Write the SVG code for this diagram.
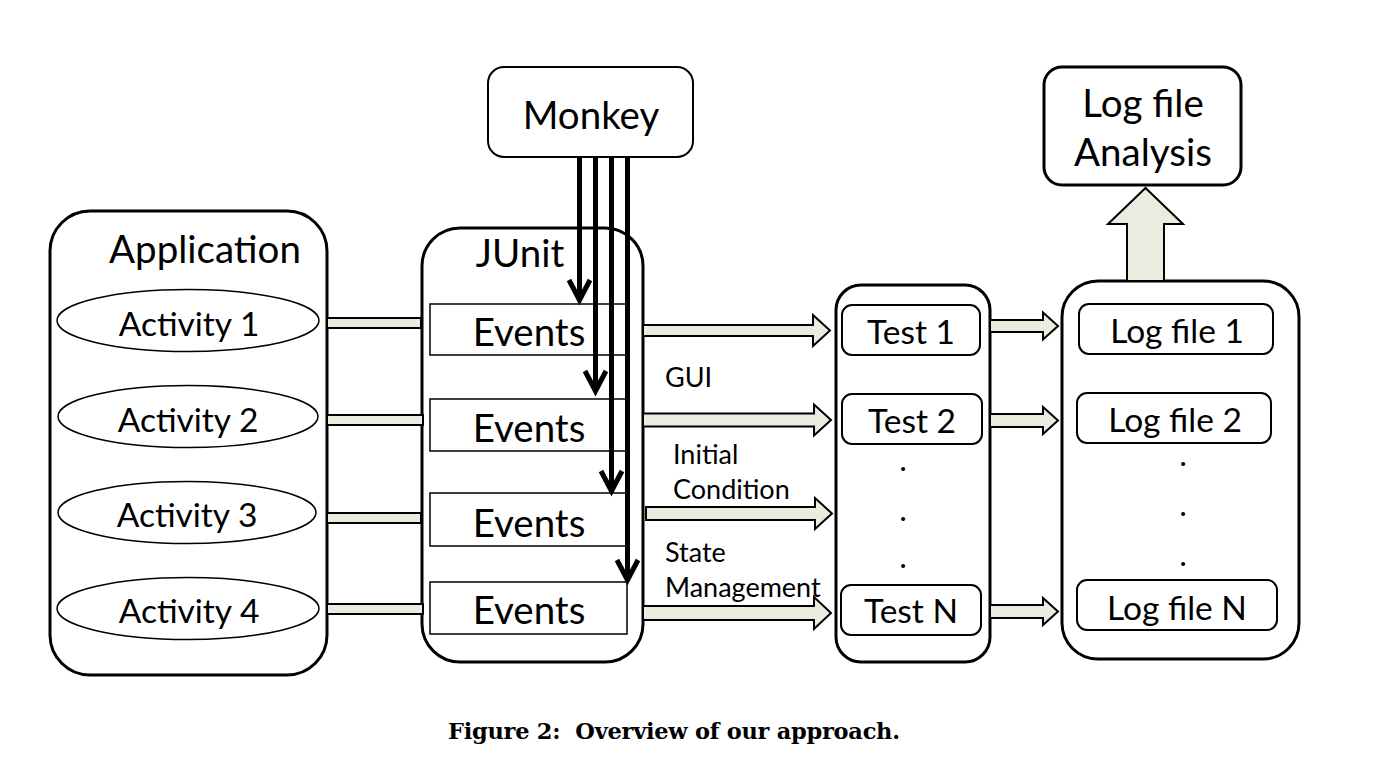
<svg xmlns="http://www.w3.org/2000/svg" width="1380" height="760" viewBox="0 0 1380 760">
<style>
  .t { font-family: Lato, "Open Sans", "DejaVu Sans", sans-serif; fill: #000; }
  .big { font-size: 38.5px; }
  .mid { font-size: 33.5px; }
  .sml { font-size: 27px; }
  .dot { font-size: 26px; font-weight: bold; }
  .c { text-anchor: middle; }
  .cont { fill: #fff; stroke: #000; stroke-width: 3; }
  .box { fill: #fff; stroke: #000; stroke-width: 2; }
  .thin { fill: #fff; stroke: #000; stroke-width: 1.5; }
  .blk { fill: #ECEBE0; stroke: #000; stroke-width: 2; stroke-linejoin: miter; }
  .mk { fill: none; stroke: #000; stroke-width: 5; }
  .cap { font-family: "DejaVu Serif", "Liberation Serif", serif; font-weight: bold; font-size: 22.5px; fill: #000; }
</style>
<defs>
  <marker id="chev" markerUnits="userSpaceOnUse" markerWidth="40" markerHeight="40" refX="0" refY="0" orient="auto" overflow="visible" viewBox="-30 -20 40 40">
    <path d="M-20,-10.5 L0,0 L-20,10.5" fill="none" stroke="#000" stroke-width="5" stroke-linejoin="miter"/>
  </marker>
</defs>
<rect width="1380" height="760" fill="#fff"/>

<g id="application">
  <rect class="cont" x="50" y="211" width="277" height="464" rx="40"/>
  <text class="t big c" x="205" y="263">Application</text>
</g>
<g id="activity1">
  <ellipse class="thin" cx="188" cy="320.5" rx="131" ry="31"/>
  <text class="t mid c" x="189" y="336">Activity 1</text>
</g>
<g id="activity2">
  <ellipse class="thin" cx="188" cy="416.5" rx="130" ry="31"/>
  <text class="t mid c" x="188" y="432">Activity 2</text>
</g>
<g id="activity3">
  <ellipse class="thin" cx="187" cy="512.5" rx="129" ry="31"/>
  <text class="t mid c" x="187" y="527">Activity 3</text>
</g>
<g id="activity4">
  <ellipse class="thin" cx="188" cy="608.5" rx="131" ry="31"/>
  <text class="t mid c" x="189" y="623">Activity 4</text>
</g>

<g id="junit">
  <rect class="cont" x="422" y="228" width="221" height="434" rx="38"/>
  <text class="t big c" x="520" y="267">JUnit</text>
</g>
<g id="events1">
  <rect class="thin" x="430" y="304" width="196" height="51"/>
  <text class="t big c" x="529" y="346">Events</text>
</g>
<g id="events2">
  <rect class="thin" x="430" y="399" width="196" height="52"/>
  <text class="t big c" x="529" y="442">Events</text>
</g>
<g id="events3">
  <rect class="thin" x="430" y="493" width="196" height="53"/>
  <text class="t big c" x="529" y="537">Events</text>
</g>
<g id="events4">
  <rect class="thin" x="430" y="582" width="197" height="52"/>
  <text class="t big c" x="529" y="624">Events</text>
</g>

<g id="monkey">
  <rect class="box" x="488" y="67" width="205" height="90" rx="16"/>
  <text class="t big c" x="591" y="129">Monkey</text>
</g>

<g id="tests">
  <rect class="cont" x="836" y="285" width="154" height="377" rx="25"/>
  <text class="t dot c" x="903" y="471">.</text>
  <text class="t dot c" x="903" y="521">.</text>
  <text class="t dot c" x="903" y="568">.</text>
</g>
<g id="test1">
  <rect class="box" x="842" y="305" width="138" height="50" rx="10"/>
  <text class="t mid c" x="911" y="344">Test 1</text>
</g>
<g id="test2">
  <rect class="box" x="842" y="394" width="140" height="50" rx="10"/>
  <text class="t mid c" x="912" y="433">Test 2</text>
</g>
<g id="testN">
  <rect class="box" x="841" y="585" width="140" height="50" rx="10"/>
  <text class="t mid c" x="911" y="623">Test N</text>
</g>

<g id="logs">
  <rect class="cont" x="1062" y="281" width="237" height="378" rx="36"/>
  <text class="t dot c" x="1183" y="466">.</text>
  <text class="t dot c" x="1183" y="516">.</text>
  <text class="t dot c" x="1183" y="566">.</text>
</g>
<g id="log1">
  <rect class="box" x="1079" y="304" width="194" height="50" rx="10"/>
  <text class="t mid c" x="1177" y="343">Log file 1</text>
</g>
<g id="log2">
  <rect class="box" x="1077" y="393" width="194" height="50" rx="10"/>
  <text class="t mid c" x="1175" y="432">Log file 2</text>
</g>
<g id="logN">
  <rect class="box" x="1077" y="580" width="200" height="50" rx="10"/>
  <text class="t mid c" x="1177" y="620">Log file N</text>
</g>

<g id="analysis">
  <rect class="cont" x="1044" y="67" width="197" height="118" rx="18"/>
  <text class="t big c" x="1143" y="117">Log file</text>
  <text class="t big c" x="1143" y="166">Analysis</text>
</g>

<g id="connectors">
  <!-- Activity to Events bars -->
  <rect class="blk" x="327" y="318" width="94" height="10"/>
  <rect class="blk" x="327" y="415" width="96" height="10"/>
  <rect class="blk" x="327" y="513" width="94" height="10"/>
  <rect class="blk" x="327" y="604" width="96" height="10"/>

  <!-- Monkey event streams -->
  <line class="mk" x1="579.5" y1="157" x2="579.5" y2="300" marker-end="url(#chev)"/>
  <line class="mk" x1="595.5" y1="157" x2="595.5" y2="391" marker-end="url(#chev)"/>
  <line class="mk" x1="611.5" y1="157" x2="611.5" y2="491" marker-end="url(#chev)"/>
  <line class="mk" x1="627.5" y1="157" x2="627.5" y2="580" marker-end="url(#chev)"/>

  <!-- JUnit to Tests -->
  <path class="blk" d="M643,325 H813 V315 L830,330.5 L813,346 V336 H643 Z"/>
  <path class="blk" d="M643,413.5 H814 V404.5 L831,420 L814,435.5 V426.5 H643 Z"/>
  <path class="blk" d="M646,507 H815 V498 L832,513.5 L815,529 V520 H646 Z"/>
  <path class="blk" d="M643,606 H814 V597 L831,613 L814,629 V620 H643 Z"/>
  <text class="t sml" x="665" y="387">GUI</text>
  <text class="t sml" x="673" y="464">Initial</text>
  <text class="t sml" x="673" y="499">Condition</text>
  <text class="t sml" x="665" y="562">State</text>
  <text class="t sml" x="665" y="597">Management</text>

  <!-- Tests to Logs -->
  <path class="blk" d="M990,320 H1043 V312.5 L1058,326 L1043,339.5 V332 H990 Z"/>
  <path class="blk" d="M990,414 H1043 V407 L1058,420.5 L1043,434 V427 H990 Z"/>
  <path class="blk" d="M990,605 H1043 V598 L1058,611.5 L1043,625 V618 H990 Z"/>

  <!-- Logs to Analysis -->
  <path class="blk" d="M1127,281 V224 H1108 L1145.5,188 L1183,224 H1164 V281 Z"/>
</g>

<text class="cap" x="448" y="739" xml:space="preserve" textLength="452" lengthAdjust="spacing">Figure 2:  Overview of our approach.</text>
</svg>
